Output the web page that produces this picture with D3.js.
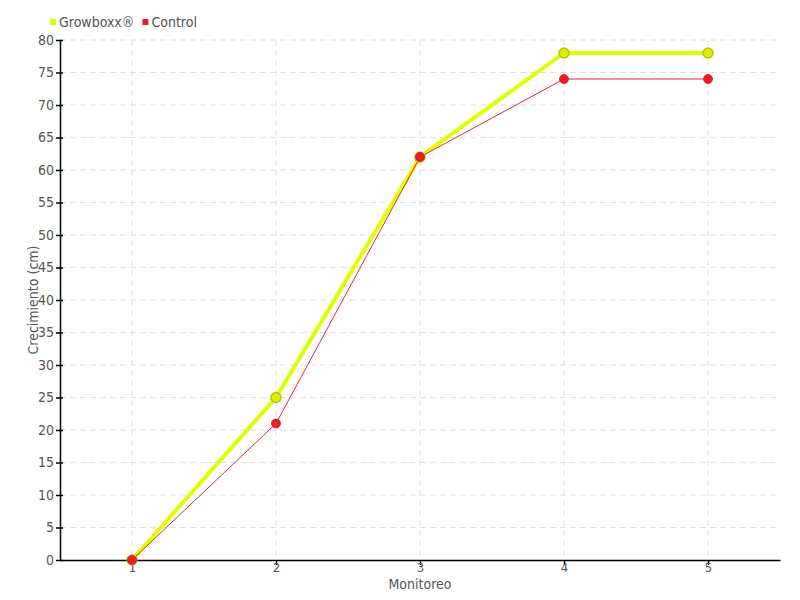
<!DOCTYPE html>
<html><head><meta charset="utf-8">
<script src="https://cdn.jsdelivr.net/npm/d3@7"></script>
<style>body{margin:0;background:#fff}text{font-family:"DejaVu Sans Condensed","DejaVu Sans",sans-serif;fill:#555}</style>
</head><body><svg id="c" width="800" height="600"></svg>
<script>
const categories = ["1","2","3","4","5"];
const growboxx = [0,25,62,78,78];
const control = [0,21,62,74,74];
const yTicks = [0,5,10,15,20,25,30,35,40,45,50,55,60,65,70,75,80];
const seriesNames = ["Growboxx®","Control"];

const svg = d3.select("#c");
const L=60,R=780,T=40,B=560;
const x = d3.scalePoint().domain(categories).range([L,R]).padding(0.5);
const y = d3.scaleLinear().domain([0,80]).range([B,T]);

// grid
svg.append("g").selectAll("line").data(yTicks.slice(1)).join("line")
  .attr("x1",L).attr("x2",R).attr("y1",d=>y(d)).attr("y2",d=>y(d))
  .attr("stroke","#e0e0e0").attr("stroke-dasharray","6,4");
svg.append("g").selectAll("line").data(categories).join("line")
  .attr("x1",d=>x(d)).attr("x2",d=>x(d)).attr("y1",T).attr("y2",B)
  .attr("stroke","#e0e0e0").attr("stroke-dasharray","6,4");

// axes
const ya = svg.append("g").attr("transform",`translate(${L},0)`)
  .call(d3.axisLeft(y).tickValues(yTicks).tickSize(4).tickSizeOuter(0));
ya.selectAll(".tick line").attr("x2",3).attr("x1",-4);
const xa = svg.append("g").attr("transform",`translate(0,${B})`)
  .call(d3.axisBottom(x).tickSize(5).tickSizeOuter(0));
[ya,xa].forEach(a=>{a.select(".domain").attr("stroke","#000").attr("stroke-width",1.5);
  a.selectAll(".tick line").attr("stroke","#000").attr("stroke-width",1.5);
  a.selectAll("text").attr("font-size",14).style("fill","#555")
   .attr("font-family",'"DejaVu Sans Condensed","DejaVu Sans",sans-serif');});
ya.selectAll("text").attr("x",-6);
xa.selectAll("text").attr("y",3).attr("font-size",13);

svg.append("text").attr("x",(L+R)/2).attr("y",589).attr("text-anchor","middle")
  .attr("font-size",14).text("Monitoreo");
svg.append("text").attr("transform",`translate(38,${(T+B)/2}) rotate(-90)`)
  .attr("text-anchor","middle").attr("font-size",14).text("Crecimiento (cm)");

const line = d3.line().x((d,i)=>x(categories[i])).y(d=>y(d));
svg.append("path").datum(growboxx).attr("d",line).attr("fill","none")
  .attr("stroke","#ddff00").attr("stroke-width",4);
svg.append("path").datum(control).attr("d",line).attr("fill","none")
  .attr("stroke","#ee2233").attr("stroke-width",1);
svg.append("g").selectAll("circle").data(growboxx).join("circle")
  .attr("cx",(d,i)=>x(categories[i])).attr("cy",d=>y(d)).attr("r",5)
  .attr("fill","#dcef00").attr("stroke","#b5c400").attr("stroke-width",1.5);
svg.append("g").selectAll("circle").data(control).join("circle")
  .attr("cx",(d,i)=>x(categories[i])).attr("cy",d=>y(d)).attr("r",4.5)
  .attr("fill","#ee1c25").attr("stroke","#cc1a20").attr("stroke-width",0.8);

// legend
const lg = svg.append("g");
const colors=["#ddff00","#ee1c25"];
let lx=50;
seriesNames.forEach((n,i)=>{
  lg.append("rect").attr("x",lx).attr("y",19).attr("width",6).attr("height",6).attr("fill",colors[i]);
  const t=lg.append("text").attr("x",lx+9).attr("y",27).attr("font-size",14).text(n);
  lx += 9 + t.node().getComputedTextLength() + 8;
});
</script></body></html>
